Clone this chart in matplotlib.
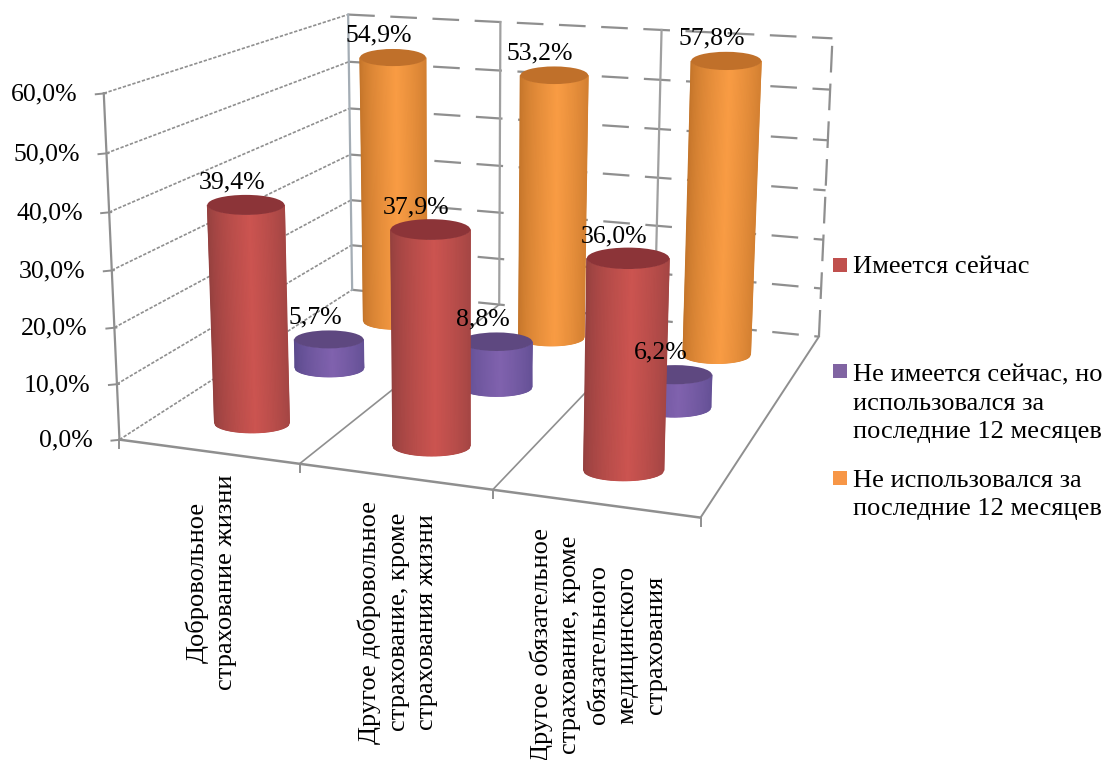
import numpy as np
import matplotlib
matplotlib.use("Agg")
import matplotlib.pyplot as plt
from matplotlib.patches import Ellipse, Rectangle
from matplotlib.colors import LinearSegmentedColormap

# Data
categories = ["Добровольное\nстрахование жизни",
              "Другое добровольное\nстрахование, кроме\nстрахования жизни",
              "Другое обязательное\nстрахование, кроме\nобязательного\nмедицинского\nстрахования"]
series_names = ["Имеется сейчас",
                "Не имеется сейчас, но\nиспользовался за\nпоследние 12 месяцев",
                "Не использовался за\nпоследние 12 месяцев"]
have_now = [39.4, 37.9, 36.0]
had_before = [5.7, 8.8, 6.2]
never_used = [54.9, 53.2, 57.8]
y_ticks = [0, 10, 20, 30, 40, 50, 60]

# edge, centre, top, legend colours per series
red = ("#94403f", "#cc5450", "#8c3438", "#c0504d")
purple = ("#5a4a8c", "#8062ae", "#5e4880", "#8064a2")
orange = ("#c4752a", "#f99c44", "#c0702a", "#f79646")

plt.rcParams["font.family"] = ["Liberation Serif", "DejaVu Serif"]
plt.rcParams["font.size"] = 19
num_size = 18.5

fig = plt.figure(figsize=(11.06, 7.6), dpi=100)
ax = fig.add_axes([0, 0, 1, 1])
ax.set_xlim(0, 1106)
ax.set_ylim(760, 0)
ax.axis("off")

# camera fitted on the corners of the 3d box: (category, depth, value) -> picture
box_world = [(0, 0, 0), (3, 0, 0), (3, 3, 0), (0, 3, 0), (0, 0, 60), (0, 3, 60), (3, 3, 60),
             (1, 0, 0), (2, 0, 0), (1, 3, 0), (2, 3, 0), (2, 3, 60)]
box_pict = [(119, 440), (700, 518), (818, 337), (352, 290), (104, 93), (348, 15), (833, 38),
            (300, 463), (493, 490), (499, 304), (656, 320), (661, 30)]
rows = []
for (X, Y, Z), (u, v) in zip(box_world, box_pict):
    rows.append([X, Y, Z, 1, 0, 0, 0, 0, -u*X, -u*Y, -u*Z, -u])
    rows.append([0, 0, 0, 0, X, Y, Z, 1, -v*X, -v*Y, -v*Z, -v])
camera = np.linalg.svd(np.array(rows, dtype=float))[2][-1].reshape(3, 4)
camera = camera / camera[2, 3]


def project(x, y, z):
    p = camera @ np.array([x, y, z, 1.0])
    return p[0]/p[2], p[1]/p[2], p[2]


def line3d(a, b, **kw):
    pa = project(*a)
    pb = project(*b)
    ax.plot([pa[0], pb[0]], [pa[1], pb[1]], **kw)


def cylinder(x, y, value, colors, zorder, R=38.5, drop=3):
    x0, y0, w0 = project(x, y, 0)
    x1, y1, w1 = project(x, y, value)
    y0, y1 = y0 + drop, y1 + drop
    a0, a1 = R/w0, R/w1
    b0, b1 = a0*0.26, a1*0.26
    us = np.linspace(-1, 1, 61)
    arc = np.sqrt(1 - us**2)
    xs = np.vstack([x0 + a0*us, x1 + a1*us])
    ys = np.vstack([y0 + b0*arc, y1 + b1*arc])
    shade = np.clip(1 - np.abs(us - 0.1)/1.1, 0, 1)**0.7
    cmap = LinearSegmentedColormap.from_list("side", [colors[0], colors[1]])
    ax.pcolormesh(xs, ys, np.vstack([shade, shade]), cmap=cmap, vmin=0, vmax=1,
                  shading="gouraud", zorder=zorder)
    ax.add_patch(Ellipse((x1, y1), 2*a1, 2*b1, fc=colors[2], ec="none", zorder=zorder+0.1))
    return x1, y1


grid = "#8f8f8f"
# left wall and back wall grid
for z in y_ticks:
    line3d((0, 0, z), (0, 3, z), color=grid, lw=1.2, ls=(0, (2, 1)), zorder=1)
    line3d((0, 3, z), (3, 3, z), color=grid, lw=1.6, ls=(0, (12, 7)), zorder=1)
    x0, y0, _ = project(0, 0, z)
    ax.plot([x0 - 8, x0 + 2], [y0 + 1, y0], color=grid, lw=1.4, zorder=1)
    ax.text(x0 - 26.5, y0 + 1, f"{z:.1f}%".replace(".", ","), ha="right", va="center",
            fontsize=num_size, color="black", zorder=20)
line3d((0, 0, 0), (0, 0, 60), color=grid, lw=1.6, zorder=1)
line3d((0, 3, 0), (0, 3, 60), color="#a4adb5", lw=1.6, zorder=1)
line3d((3, 3, 0), (3, 3, 60), color=grid, lw=1.6, ls=(0, (12, 5)), zorder=1)
for c in [1, 2]:
    line3d((c, 3, 0), (c, 3, 60), color="#a0a0a0", lw=1.6, zorder=1)
# floor
for c in [1, 2]:
    line3d((c, 0, 0), (c, 3, 0), color=grid, lw=1.2, zorder=1)
line3d((0, 0, 0), (3, 0, 0), color=grid, lw=1.8, zorder=1)
line3d((3, 0, 0), (3, 3, 0), color=grid, lw=1.4, zorder=1)
for c in range(4):
    x0, y0, _ = project(c, 0, 0)
    ax.plot([x0, x0], [y0, y0 + 8], color=grid, lw=1.4, zorder=1)

# cylinders, back row first
for depth, vals, colors in [(2.5, never_used, orange), (1.5, had_before, purple), (0.5, have_now, red)]:
    for c, v in enumerate(vals):
        px, py = cylinder(c + 0.5, depth, v, colors, zorder=5 + (3 - depth)*2)
        ax.text(px - 14, py - 22, f"{v:.1f}%".replace(".", ","), ha="center", va="center",
                fontsize=num_size, color="black", zorder=20)

# category labels
cat_pos = [(211, 582), (398, 622), (598, 645)]
for name, (px, py) in zip(categories, cat_pos):
    ax.text(px, py, name, rotation=90, ha="center", va="center", multialignment="center",
            linespacing=1.38, color="black", zorder=20)

# legend
legend_y = [265, 371, 478]
legend_text_y = [267, 404, 495]
for name, col, sy, ty in zip(series_names, [red, purple, orange], legend_y, legend_text_y):
    ax.add_patch(Rectangle((833, sy - 7), 14, 14, fc=col[3], ec="none", zorder=20))
    ax.text(853, ty, name, ha="left", va="center", linespacing=1.38, color="black", zorder=20)

fig.savefig("out.png", dpi=100)
